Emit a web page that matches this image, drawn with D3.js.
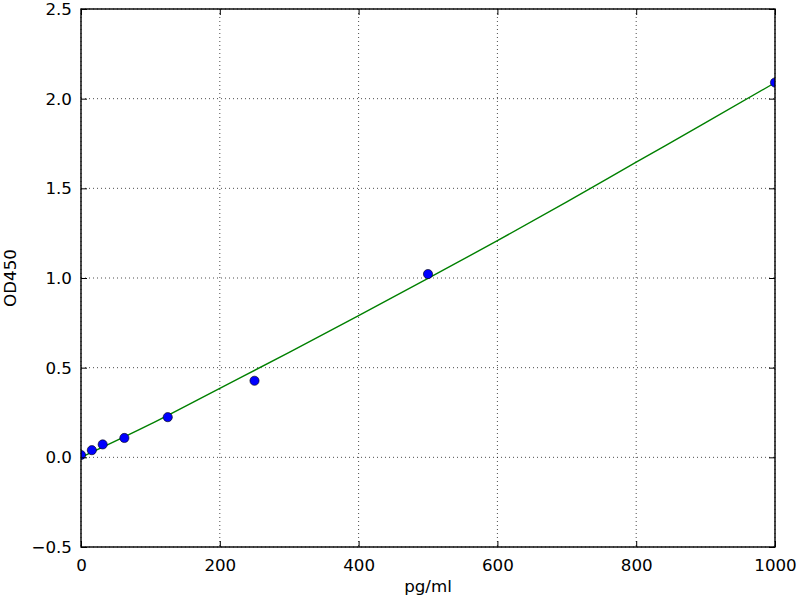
<!DOCTYPE html>
<html>
<head>
<meta charset="utf-8">
<script src="https://cdn.jsdelivr.net/npm/d3@7"></script>
<style>
  body { margin: 0; background: #fff; }
  text { font-family: "DejaVu Sans", sans-serif; }
</style>
</head>
<body>
<svg id="chart" width="800" height="600"></svg>
<script>
// measured standards (pg/ml vs OD450)
let concArr   = [0, 15.625, 31.25, 62.5, 125, 250, 500, 1000];
let odArr     = [0.013, 0.04, 0.072, 0.108, 0.224, 0.427, 1.022, 2.09];
// fitted curve
let fitConc   = [0, 100, 200, 300, 400, 500, 600, 700, 800, 900, 1000];
let fitOd     = [0.0, 0.185, 0.385, 0.585, 0.79, 0.998, 1.208, 1.425, 1.646, 1.866, 2.089];
let xTicks    = [0, 200, 400, 600, 800, 1000];
let yTicks    = [-0.5, 0.0, 0.5, 1.0, 1.5, 2.0, 2.5];

let pLeft = 81, pRight = 775, pTop = 9, pBottom = 547;

let svg = d3.select("#chart");

let x = d3.scaleLinear().domain([0, 1000]).range([pLeft, pRight]);
let y = d3.scaleLinear().domain([-0.5, 2.5]).range([pBottom, pTop]);

svg.append("defs").append("clipPath").attr("id", "plotClip")
    .append("rect")
        .attr("x", pLeft).attr("y", pTop)
        .attr("width", pRight - pLeft).attr("height", pBottom - pTop);

// grid lines
let grid = svg.append("g").attr("stroke", "#000").attr("stroke-width", 0.7)
                .attr("stroke-dasharray", "1,3");
grid.selectAll(".gx").data(xTicks).enter().append("line")
    .attr("x1", d => x(d)).attr("x2", d => x(d))
    .attr("y1", pTop).attr("y2", pBottom);
grid.selectAll(".gy").data(yTicks).enter().append("line")
    .attr("x1", pLeft).attr("x2", pRight)
    .attr("y1", d => y(d)).attr("y2", d => y(d));

let plot = svg.append("g").attr("clip-path", "url(#plotClip)");

// fit line
let line = d3.line().x((d, i) => x(fitConc[i])).y(d => y(d)).curve(d3.curveMonotoneX);
plot.append("path")
    .attr("d", line(fitOd))
    .attr("fill", "none")
    .attr("stroke", "#008000")
    .attr("stroke-width", 1.4);

// points
plot.selectAll("circle").data(odArr).enter().append("circle")
    .attr("cx", (d, i) => x(concArr[i]))
    .attr("cy", d => y(d))
    .attr("r", 4.6)
    .attr("fill", "#0000ff")
    .attr("stroke", "#000")
    .attr("stroke-width", 0.6);

// axes with inward ticks, classic style
let fmtY = d => d < 0 ? "\u2212" + Math.abs(d).toFixed(1) : d.toFixed(1);

svg.append("g").attr("transform", "translate(0," + pBottom + ")")
    .call(d3.axisBottom(x).tickValues(xTicks).tickSize(-6).tickPadding(12).tickFormat(d3.format("d")))
    .call(g => g.select(".domain").remove())
    .call(g => g.selectAll("text").attr("font-size", "16.7px").attr("fill", "#000").attr("font-family", "DejaVu Sans"));
svg.append("g").attr("transform", "translate(0," + pTop + ")")
    .call(d3.axisTop(x).tickValues(xTicks).tickSize(-6).tickFormat(""))
    .call(g => g.select(".domain").remove());
svg.append("g").attr("transform", "translate(" + pLeft + ",0)")
    .call(d3.axisLeft(y).tickValues(yTicks).tickSize(-6).tickPadding(9).tickFormat(fmtY))
    .call(g => g.select(".domain").remove())
    .call(g => g.selectAll("text").attr("font-size", "16.7px").attr("fill", "#000").attr("font-family", "DejaVu Sans"));
svg.append("g").attr("transform", "translate(" + pRight + ",0)")
    .call(d3.axisRight(y).tickValues(yTicks).tickSize(-6).tickFormat(""))
    .call(g => g.select(".domain").remove());

svg.selectAll(".tick line").attr("stroke", "#000").attr("stroke-width", 1);

// frame
svg.append("rect")
    .attr("x", pLeft).attr("y", pTop)
    .attr("width", pRight - pLeft).attr("height", pBottom - pTop)
    .attr("fill", "none").attr("stroke", "#000").attr("stroke-width", 1.4);

// axis titles
svg.append("text")
    .attr("x", (pLeft + pRight) / 2).attr("y", 592)
    .attr("text-anchor", "middle").attr("font-size", "16.7px")
    .text("pg/ml");
svg.append("text")
    .attr("transform", "translate(16," + ((pTop + pBottom) / 2) + ") rotate(-90)")
    .attr("text-anchor", "middle").attr("font-size", "16.7px")
    .text("OD450");
</script>
</body>
</html>
